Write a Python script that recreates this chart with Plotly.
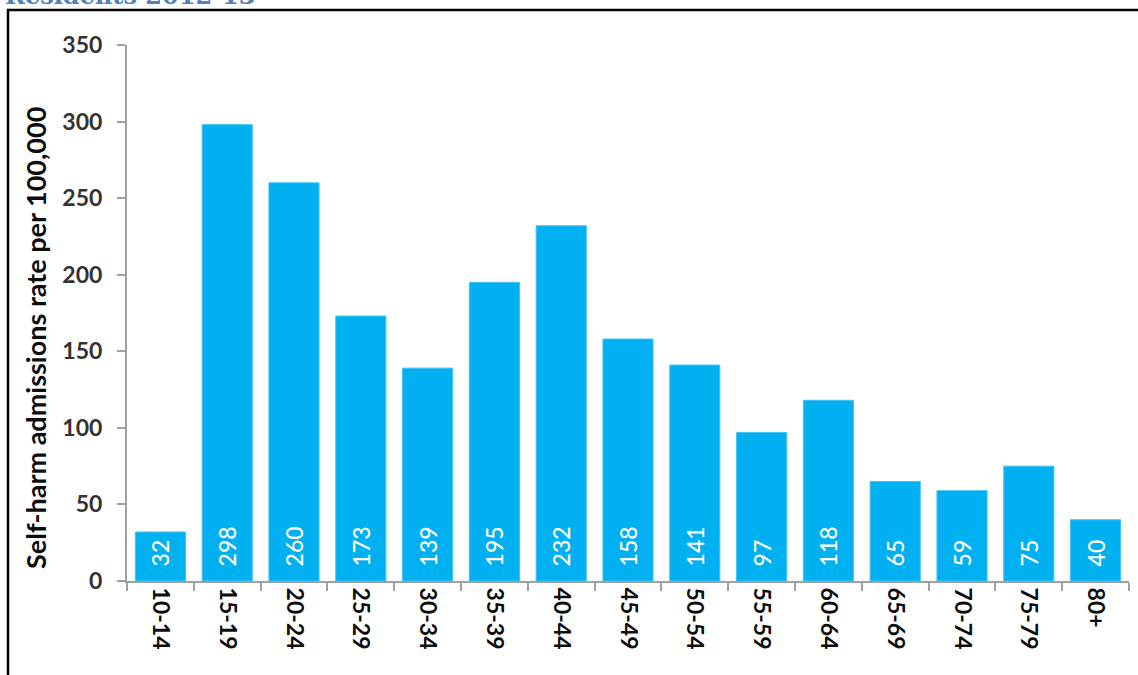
import plotly.graph_objects as go

age_groups = ["10-14", "15-19", "20-24", "25-29", "30-34", "35-39", "40-44", "45-49",
              "50-54", "55-59", "60-64", "65-69", "70-74", "75-79", "80+"]
admission_rates = [32, 298, 260, 173, 139, 195, 232, 158, 141, 97, 118, 65, 59, 75, 40]
y_ticks = [0, 50, 100, 150, 200, 250, 300, 350]

W, H = 1138, 675
ML, MR, MT, MB = 127, 9, 45, 94
PW, PH = W - ML - MR, H - MT - MB


def px_x(px):
    return (px - ML) / PW


def px_y(py):
    return (H - MB - py) / PH


# value labels sit a little above the bar base
NBSP = "\u00a0"
bar_labels = [NBSP * 2 + str(v) for v in admission_rates]

fig = go.Figure(go.Bar(
    x=age_groups,
    y=admission_rates,
    marker=dict(color="#00B0F0", line=dict(color="#3FC3F4", width=1)),
    text=bar_labels,
    textposition="inside",
    insidetextanchor="start",
    textangle=-90,
    textfont=dict(family="Lato", size=23, color="white", weight=500),
    cliponaxis=False,
    hoverinfo="x+y",
))

fig.update_layout(
    width=W, height=H,
    margin=dict(l=ML, r=MR, t=MT, b=MB),
    paper_bgcolor="white",
    plot_bgcolor="white",
    bargap=0.25,
    showlegend=False,
    uniformtext=dict(mode=False),
    font=dict(family="Lato", color="#262626"),
    xaxis=dict(
        tickangle=90,
        tickfont=dict(family="Lato", size=23, color="#0D0D0D", weight="bold"),
        showline=True, linecolor="#A0A0A0", linewidth=2,
        ticks="outside", ticklen=8, tickcolor="#A0A0A0", tickwidth=2,
        tickson="boundaries",
        showgrid=False,
    ),
    yaxis=dict(
        range=[0, 350],
        tickvals=y_ticks,
        tickfont=dict(family="Lato", size=23, color="#333333", weight="bold"),
        ticklabelstandoff=10,
        showline=True, linecolor="#A0A0A0", linewidth=2,
        ticks="outside", ticklen=8, tickcolor="#A0A0A0", tickwidth=2,
        showgrid=False, zeroline=False,
    ),
    annotations=[
        dict(
            text="Self-harm admissions rate per 100,000",
            xref="paper", yref="paper",
            x=px_x(36), y=px_y(338),
            xanchor="center", yanchor="middle",
            textangle=-90, showarrow=False,
            font=dict(family="Lato", size=27, color="#0D0D0D", weight="bold"),
        ),
        dict(
            text="Residents 2012-13",
            xref="paper", yref="paper",
            x=px_x(3), y=px_y(12),
            xanchor="left", yanchor="bottom",
            showarrow=False,
            font=dict(family="DejaVu Serif", size=24, color="#4F81BD", weight="bold"),
        ),
    ],
    shapes=[
        dict(
            type="rect", xref="paper", yref="paper",
            x0=px_x(8), x1=px_x(1160), y0=px_y(10), y1=px_y(700),
            line=dict(color="black", width=2.5),
            fillcolor="rgba(0,0,0,0)",
            layer="below",
        )
    ],
)

fig.write_html("out.html")
